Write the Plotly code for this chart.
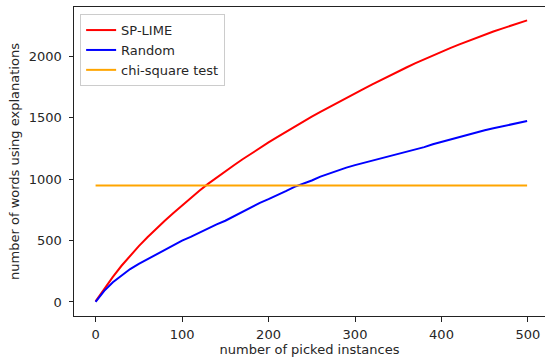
import plotly.graph_objects as go

x_vals = [0, 10, 20, 30, 40, 50, 60, 70, 80, 90, 100, 110, 120, 130, 140, 150, 160, 170, 180, 190,
          200, 210, 220, 230, 240, 250, 260, 270, 280, 290, 300, 310, 320, 330, 340, 350, 360, 370,
          380, 390, 400, 410, 420, 430, 440, 450, 460, 470, 480, 490, 499]

sp_lime = [5, 108, 205, 295, 378, 455, 527, 597, 662, 725, 787, 848, 906, 962, 1015, 1065, 1114, 1163,
           1211, 1257, 1300, 1343, 1386, 1428, 1470, 1510, 1549, 1588, 1626, 1663, 1700, 1737, 1773,
           1809, 1845, 1880, 1913, 1946, 1978, 2009, 2040, 2069, 2097, 2125, 2153, 2180, 2204, 2228,
           2251, 2273, 2295]

random_pick = [0, 90, 160, 215, 268, 310, 348, 385, 428, 468, 500, 530, 565, 600, 632, 662, 698, 738,
               775, 808, 838, 868, 903, 938, 963, 990, 1022, 1048, 1073, 1095, 1115, 1133, 1150, 1168,
               1185, 1203, 1223, 1243, 1262, 1285, 1305, 1323, 1345, 1365, 1385, 1400, 1415, 1430,
               1445, 1462, 1475]

chi_square_x = [0, 499]
chi_square_y = [950, 950]

series_names = ["SP-LIME", "Random", "chi-square test"]
x_ticks = [0, 100, 200, 300, 400, 500]
y_ticks = [0, 500, 1000, 1500, 2000]

FONT = "DejaVu Sans"
TXT = "#262626"

fig = go.Figure()
fig.add_trace(go.Scatter(x=x_vals, y=sp_lime, mode="lines", name=series_names[0],
                         line=dict(color="#ff0000", width=2)))
fig.add_trace(go.Scatter(x=x_vals, y=random_pick, mode="lines", name=series_names[1],
                         line=dict(color="#0000ff", width=2)))
fig.add_trace(go.Scatter(x=chi_square_x, y=chi_square_y, mode="lines", name=series_names[2],
                         line=dict(color="#ffa500", width=2)))

fig.update_layout(
    width=545, height=358,
    margin=dict(l=74, r=0, t=7, b=42),
    paper_bgcolor="white", plot_bgcolor="white",
    font=dict(family=FONT, size=13, color=TXT),
    showlegend=True,
    legend=dict(x=0.013, y=0.977, xanchor="left", yanchor="top",
                bordercolor="#cccccc", borderwidth=1, bgcolor="rgba(255,255,255,0.8)",
                font=dict(family=FONT, size=13, color=TXT),
                tracegroupgap=0, itemwidth=30),
    xaxis=dict(range=[-24.95, 519.7], tickvals=x_ticks, ticktext=[str(v) for v in x_ticks],
               showgrid=False, zeroline=False, showline=True, linecolor="#222", linewidth=1,
               mirror=True, ticks="outside", ticklen=4.5, tickwidth=1, tickcolor="#222",
               ticklabelstandoff=2,
               title=dict(text="number of picked instances", standoff=3,
                          font=dict(family=FONT, size=13, color=TXT))),
    yaxis=dict(range=[-114.5, 2404], tickvals=y_ticks, ticktext=[str(v) for v in y_ticks],
               showgrid=False, zeroline=False, showline=True, linecolor="#222", linewidth=1,
               mirror=False, ticks="outside", ticklen=4.5, tickwidth=1, tickcolor="#222",
               ticklabelstandoff=4,
               title=dict(text="number of words using explanations", standoff=6,
                          font=dict(family=FONT, size=13, color=TXT))),
)

fig.write_html("out.html",
               config={"displayModeBar": False},
               post_script="document.body.style.margin='0';document.body.style.padding='0';document.body.style.overflow='hidden';")
